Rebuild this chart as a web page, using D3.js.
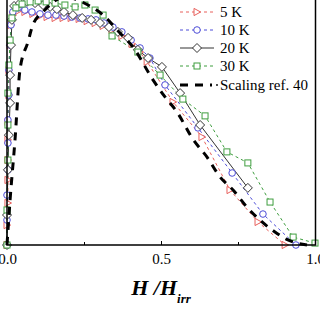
<!DOCTYPE html>
<html>
<head>
<meta charset="utf-8">
<script src="https://cdn.jsdelivr.net/npm/d3@7"></script>
<style>
  html, body { margin: 0; padding: 0; background: #fff; }
  svg { display: block; font-family: "Liberation Serif", "DejaVu Serif", serif; }
</style>
</head>
<body>
<svg id="chart" width="320" height="320"></svg>
<script>
// values, x = H/Hirr, y = normalised value
var xTicks = [0, 0.5, 1.0];
var xMinor = [0.25, 0.75];

var series5K = [[0,0],[0,0.083],[0.003,0.175],[0.003,0.271],[0.003,0.354],[0.003,0.438],[0.003,0.513],
  [0.006,0.625],[0.006,0.729],[0.010,0.833],[0.013,0.917],[0.019,0.958],[0.036,0.975],[0.058,0.971],
  [0.084,0.963],[0.107,0.954],[0.130,0.950],[0.156,0.946],[0.182,0.946],[0.208,0.946],[0.234,0.942],
  [0.260,0.933],[0.286,0.925],[0.312,0.913],[0.341,0.896],[0.373,0.871],[0.406,0.838],[0.432,0.804],
  [0.455,0.763],[0.539,0.596],[0.633,0.450],[0.724,0.229],[0.815,0.096],[0.903,0]];

var series10K = [[0,0],[0,0.104],[0,0.208],[0.003,0.313],[0.003,0.425],[0.003,0.521],[0.006,0.625],
  [0.006,0.729],[0.010,0.833],[0.013,0.917],[0.019,0.971],[0.036,0.988],[0.058,0.979],[0.081,0.971],
  [0.107,0.963],[0.133,0.958],[0.159,0.958],[0.185,0.954],[0.211,0.950],[0.237,0.946],[0.263,0.942],
  [0.289,0.938],[0.315,0.925],[0.344,0.908],[0.373,0.888],[0.403,0.854],[0.432,0.821],[0.464,0.779],
  [0.513,0.667],[0.620,0.488],[0.731,0.300],[0.831,0.129],[0.938,0]];

var series20K = [[0,0],[0,0.125],[0.003,0.313],[0.006,0.458],[0.010,0.592],[0.010,0.708],[0.013,0.833],
  [0.016,0.938],[0.023,0.996],[0.042,1.008],[0.065,1.013],[0.091,1.008],[0.117,1.000],[0.140,0.992],
  [0.162,0.983],[0.185,0.971],[0.214,0.958],[0.244,0.946],[0.273,0.938],[0.302,0.925],[0.331,0.908],
  [0.360,0.888],[0.393,0.863],[0.425,0.813],[0.458,0.779],[0.503,0.742],[0.562,0.633],[0.627,0.500],
  [0.782,0.238]];

var series30K = [[0,0],[0,0.146],[0.003,0.354],[0.003,0.5],[0.003,0.633],[0.006,0.75],[0.010,0.854],
  [0.016,0.946],[0.029,0.988],[0.049,1.004],[0.075,1.013],[0.101,1.017],[0.127,1.013],[0.156,1.008],
  [0.188,1.000],[0.221,0.992],[0.253,1.000],[0.286,0.979],[0.312,0.958],[0.341,0.871],[0.425,0.804],
  [0.497,0.708],[0.571,0.608],[0.643,0.538],[0.714,0.388],[0.782,0.342],[0.854,0.179],[0.929,0.033],
  [1.0,0.008]];

var scalingRef = [[0,0],[0.010,0.188],[0.026,0.438],[0.042,0.729],[0.068,0.846],[0.084,0.917],
  [0.117,0.971],[0.188,1.033],[0.263,1.000],[0.312,0.958],[0.367,0.883],[0.409,0.825],[0.474,0.688],
  [0.513,0.617],[0.552,0.554],[0.604,0.440],[0.649,0.367],[0.692,0.283],[0.734,0.229],[0.779,0.158],
  [0.821,0.104],[0.870,0.054],[0.912,0.021],[0.974,0]];

var legendLabels = ["5 K", "10 K", "20 K", "30 K", "Scaling ref. 40"];

var svg = d3.select("#chart");

var x = d3.scaleLinear().domain([0, 1]).range([7, 315]);
var y = d3.scaleLinear().domain([0, 1]).range([245, 5]);

var styles = [
  { data: series5K, color: "#e8605c", dash: "3,3", shape: "tri" },
  { data: series10K, color: "#4d4dd8", dash: "3,3", shape: "circle" },
  { data: series20K, color: "#333", dash: null, shape: "diamond" },
  { data: series30K, color: "#3f9e3f", dash: "3,3", shape: "square" }
];

function marker(g, shape, color) {
  if (shape === "tri") {
    g.append("path").attr("d", "M-3,-3.6L3.6,0L-3,3.6Z");
  } else if (shape === "circle") {
    g.append("circle").attr("r", 3.3);
  } else if (shape === "diamond") {
    g.append("path").attr("d", "M0,-4.5L4.5,0L0,4.5L-4.5,0Z");
  } else {
    g.append("rect").attr("x", -3).attr("y", -3).attr("width", 6).attr("height", 6);
  }
  g.selectAll("*").attr("fill", "#fff").attr("stroke", color).attr("stroke-width", 1);
}

var line = d3.line().x(function (d) { return x(d[0]); }).y(function (d) { return y(d[1]); });

// series lines + markers
styles.forEach(function (s) {
  svg.append("path")
    .datum(s.data)
    .attr("d", line)
    .attr("fill", "none")
    .attr("stroke", s.color)
    .attr("stroke-width", 1)
    .attr("stroke-dasharray", s.dash);
});
styles.forEach(function (s) {
  svg.append("g")
    .selectAll("g")
    .data(s.data)
    .enter()
    .append("g")
    .attr("transform", function (d) { return "translate(" + x(d[0]) + "," + y(d[1]) + ")"; })
    .each(function () { marker(d3.select(this), s.shape, s.color); });
});

// scaling curve
svg.append("path")
  .datum(scalingRef)
  .attr("d", line.curve(d3.curveMonotoneX))
  .attr("fill", "none")
  .attr("stroke", "#000")
  .attr("stroke-width", 3)
  .attr("stroke-dasharray", "8,7");

// axes frame
svg.append("g")
  .attr("transform", "translate(0,245)")
  .call(d3.axisBottom(x).tickValues(xTicks).tickSize(-4).tickPadding(8).tickFormat(d3.format(".1f")))
  .call(function (g) {
    g.select(".domain").remove();
    g.selectAll("text").attr("font-family", "Liberation Serif").attr("font-size", 15).attr("fill", "#000");
  });
svg.append("g")
  .attr("transform", "translate(0,245)")
  .call(d3.axisBottom(x).tickValues(xMinor).tickSize(-3).tickFormat(""))
  .call(function (g) { g.select(".domain").remove(); });

svg.append("path")
  .attr("d", "M" + x(0) + ",0V245H" + (x(1) + 0.5) + "V0")
  .attr("fill", "none")
  .attr("stroke", "#000")
  .attr("stroke-width", 1.5);

// x axis title
var title = svg.append("text")
  .attr("x", 161)
  .attr("y", 295)
  .attr("text-anchor", "middle")
  .attr("font-family", "Liberation Serif")
  .attr("font-weight", "bold")
  .attr("font-style", "italic")
  .attr("font-size", 22);
title.append("tspan").text("H /H");
title.append("tspan").attr("font-size", 13).attr("dy", 8).text("irr");

// legend
var leg = svg.append("g");
legendLabels.forEach(function (label, i) {
  var ly = [12, 30, 48, 66, 85][i];
  var g = leg.append("g").attr("transform", "translate(0," + ly + ")");
  if (i < 4) {
    var s = styles[i];
    g.append("line").attr("x1", 180).attr("x2", 214)
      .attr("stroke", s.color).attr("stroke-width", 1).attr("stroke-dasharray", s.dash);
    var m = g.append("g").attr("transform", "translate(197,0)");
    marker(m, s.shape, s.color);
  } else {
    g.append("line").attr("x1", 180).attr("x2", 212)
      .attr("stroke", "#000").attr("stroke-width", 3).attr("stroke-dasharray", "8,7");
    g.append("circle").attr("cx", 217).attr("cy", 0).attr("r", 0.9).attr("fill", "#000");
  }
  g.append("text")
    .attr("x", 220)
    .attr("y", 5)
    .attr("font-family", "Liberation Serif")
    .attr("font-size", 15)
    .text(label);
});
</script>
</body>
</html>
